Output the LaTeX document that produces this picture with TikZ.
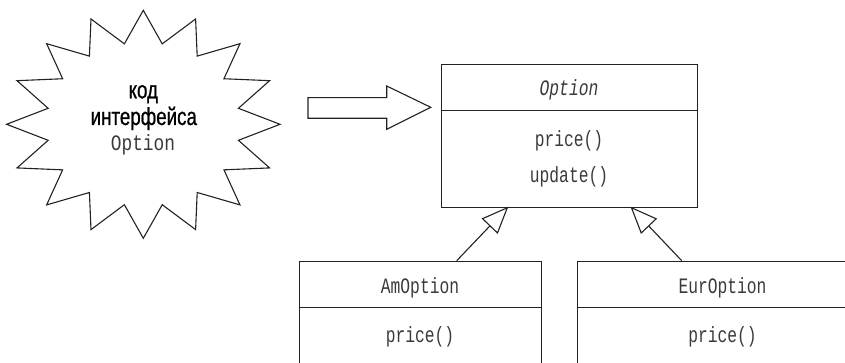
\documentclass[tikz,border=0pt]{standalone}
\usepackage{fontspec}
\usetikzlibrary{arrows.meta,calc}
\newfontfamily\monof[FakeStretch=0.74]{Liberation Mono}
\newfontfamily\monow[FakeStretch=0.81]{Liberation Mono}
\newfontfamily\cyrf[FakeStretch=0.76,FakeBold=0.8]{Liberation Sans}
\definecolor{ink}{HTML}{222222}
\definecolor{mtext}{HTML}{3A3A3A}
\tikzset{
  umlbox/.style={draw=ink, line width=1.1pt, anchor=north west, inner sep=0pt},
  divline/.style={draw=ink, line width=1.1pt},
  mono/.style={font=\monof\fontsize{22}{24}\selectfont, text=mtext, anchor=base, inner sep=0pt},
  cyr/.style={font=\cyrf\fontsize{24.7}{26}\selectfont, text=black, anchor=base, inner sep=0pt},
  inherit/.style={draw=ink, line width=1.1pt, -{Triangle[open, length=27pt, width=22pt, line width=1.1pt]}},
  burstline/.style={draw=ink, line width=1.1pt, line join=miter}
}
\begin{document}
\begin{tikzpicture}[x=1pt,y=-1pt]
\useasboundingbox (0,0) rectangle (845,363);
\clip (0,0) rectangle (845,363);
% starburst
\coordinate (bc) at (143.3,124.3);
\draw[burstline] \foreach \k in {0,...,15} {
  \ifnum\k=0 ($(bc)+({90+22.5*\k}:136.7 and -114)$) \else -- ($(bc)+({90+22.5*\k}:136.7 and -114)$) \fi
  -- ($(bc)+({90+22.5*\k+11.25}:97 and -82)$)
} -- cycle;
\node[cyr] (t1) at (143.3,98.3) {код};
\node[cyr] (t2) at (143.8,125) {интерфейса};
\node[mono, font=\monow\fontsize{22}{24}\selectfont] (t3) at (143,151) {Option};
% block arrow
\draw[burstline] (308,97.7) -- (386.7,97.7) -- (386.7,86) -- (430.7,107.3)
  -- (386.7,129.3) -- (386.7,118.3) -- (308,118.3) -- cycle;
% Option box
\node[umlbox, minimum width=256.6pt, minimum height=142.7pt] (opt) at (440.7,64) {};
\draw[divline] (opt.west |- 0,110.5) -- (opt.east |- 0,110.5);
\node[mono, font=\monof\itshape\fontsize{22}{24}\selectfont] (optn) at (569,95.7) {Option};
\node[mono] (op1) at (569,146.7) {price()};
\node[mono] (op2) at (569,183) {update()};
% AmOption box
\node[umlbox, minimum width=241.7pt, minimum height=130pt] (am) at (299,260.7) {};
\draw[divline] (am.west |- 0,307.5) -- (am.east |- 0,307.5);
\node[mono] (amn) at (420,293.3) {AmOption};
\node[mono] (am1) at (420,342.7) {price()};
% EurOption box
\node[umlbox, minimum width=290.4pt, minimum height=130pt] (eur) at (577.3,260.7) {};
\draw[divline] (eur.west |- 0,307.5) -- (eur.east |- 0,307.5);
\node[mono] (eurn) at (722.5,293.3) {EurOption};
\node[mono] (eur1) at (722.5,342.7) {price()};
% inheritance
\coordinate (amtop) at (456.7,260.7);
\coordinate (optl) at (508.3,206.7);
\coordinate (eurtop) at (681.7,260.7);
\coordinate (optr) at (630.5,206.7);
\draw[inherit] (amtop) -- (optl);
\draw[inherit] (eurtop) -- (optr);
\end{tikzpicture}
\end{document}
